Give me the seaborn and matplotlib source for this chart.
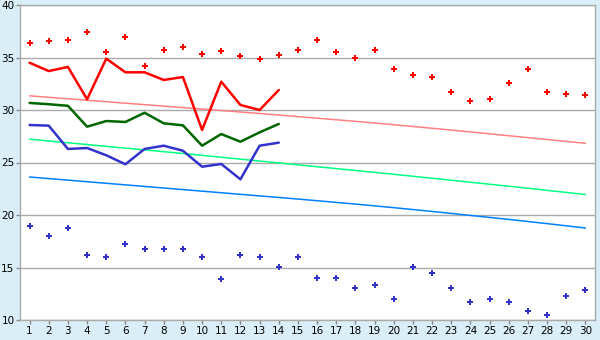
import matplotlib
matplotlib.use("Agg")
import matplotlib.pyplot as plt
import seaborn as sns
import pandas as pd

days = list(range(1, 31))

record_high = [36.35, 36.54, 36.64, 37.4, 35.5, 36.92, 34.16, 35.68, 35.97, 35.3,
               35.62, 35.11, 34.83, 35.2, 35.68, 36.64, 35.49, 34.92, 35.68, 33.87,
               33.3, 33.11, 31.68, 30.83, 31.02, 32.54, 33.87, 31.68, 31.49, 31.4]
record_low = [18.98, 17.97, 18.73, 16.16, 15.97, 17.2, 16.73, 16.73, 16.73, 15.97,
              13.87, 16.16, 15.97, 15.02, 15.97, 13.97, 13.97, 13.02, 13.3, 11.97,
              15.02, 14.45, 13.02, 11.69, 11.97, 11.69, 10.83, 10.45, 12.26, 12.83]

normal_high = [31.35, 31.21, 31.07, 30.93, 30.79, 30.65, 30.51, 30.37, 30.23, 30.09,
               29.95, 29.81, 29.67, 29.52, 29.37, 29.22, 29.07, 28.92, 28.76, 28.60,
               28.43, 28.26, 28.09, 27.91, 27.73, 27.55, 27.37, 27.19, 27.01, 26.83]
normal_mean = [27.22, 27.05, 26.88, 26.71, 26.54, 26.37, 26.20, 26.03, 25.86, 25.68,
               25.50, 25.32, 25.14, 24.96, 24.78, 24.60, 24.42, 24.24, 24.06, 23.88,
               23.69, 23.50, 23.31, 23.12, 22.93, 22.74, 22.55, 22.35, 22.15, 21.95]
normal_low = [23.62, 23.47, 23.32, 23.17, 23.02, 22.87, 22.72, 22.57, 22.42, 22.27,
              22.12, 21.97, 21.82, 21.67, 21.52, 21.36, 21.20, 21.04, 20.87, 20.70,
              20.52, 20.34, 20.15, 19.96, 19.77, 19.58, 19.38, 19.18, 18.97, 18.76]

obs_days = list(range(1, 15))
obs_high = [34.5, 33.71, 34.1, 31.02, 34.89, 33.59, 33.59, 32.86, 33.14, 28.1,
            32.7, 30.48, 30.0, 31.9]
obs_mean = [30.67, 30.55, 30.4, 28.41, 28.95, 28.86, 29.74, 28.73, 28.54, 26.6,
            27.71, 26.98, 27.87, 28.67]
obs_low = [28.57, 28.51, 26.29, 26.38, 25.69, 24.83, 26.29, 26.6, 26.12, 24.6,
           24.86, 23.4, 26.6, 26.89]

y_ticks = [10, 15, 20, 25, 30, 35, 40]

sns.set_theme(style="white")
plt.rcParams['font.family'] = ['DejaVu Sans']

df_all = pd.DataFrame({"day": days, "rh": record_high, "rl": record_low,
                       "nh": normal_high, "nm": normal_mean, "nl": normal_low})
df_obs = pd.DataFrame({"day": obs_days, "h": obs_high, "m": obs_mean, "l": obs_low})

fig = plt.figure(figsize=(6, 3.4), dpi=100, facecolor="#D9EEF6")
ax = fig.add_axes([20/600, 1 - 320/340, 575/600, 315/340])
ax.set_facecolor("white")

for y in y_ticks:
    ax.axhline(y, color="#AAAAAA", lw=1, zorder=0)

sns.lineplot(data=df_all, x="day", y="nh", ax=ax, color="#FF8080", lw=1.1, zorder=2)
sns.lineplot(data=df_all, x="day", y="nm", ax=ax, color="#00FF80", lw=1.1, zorder=2)
sns.lineplot(data=df_all, x="day", y="nl", ax=ax, color="#0080FF", lw=1.1, zorder=2)

sns.lineplot(data=df_obs, x="day", y="h", ax=ax, color="#FF0000", lw=1.8, zorder=3)
sns.lineplot(data=df_obs, x="day", y="m", ax=ax, color="#006600", lw=1.8, zorder=3)
sns.lineplot(data=df_obs, x="day", y="l", ax=ax, color="#3333CC", lw=1.8, zorder=3)

sns.scatterplot(data=df_all, x="day", y="rh", ax=ax, color="#FF0000", marker="P",
                s=22, linewidth=0, zorder=4)
sns.scatterplot(data=df_all, x="day", y="rl", ax=ax, color="#3333CC", marker="P",
                s=22, linewidth=0, zorder=4)

ax.set_xlim(0.5, 30.5)
ax.set_ylim(10, 40)
ax.set_xticks(days)
ax.set_xticklabels([str(d) for d in days])
ax.set_yticks(y_ticks)
ax.set_yticklabels([str(v) for v in y_ticks])
ax.set_xlabel("")
ax.set_ylabel("")
for sp in ax.spines.values():
    sp.set_color("#AAAAAA")
    sp.set_linewidth(1)
ax.tick_params(axis="both", which="both", direction="out", length=3, width=1,
               color="#888888", labelsize=7.5, labelcolor="black", pad=1)
ax.tick_params(left=True, bottom=True)

fig.savefig("out.png", dpi=100, facecolor=fig.get_facecolor())
